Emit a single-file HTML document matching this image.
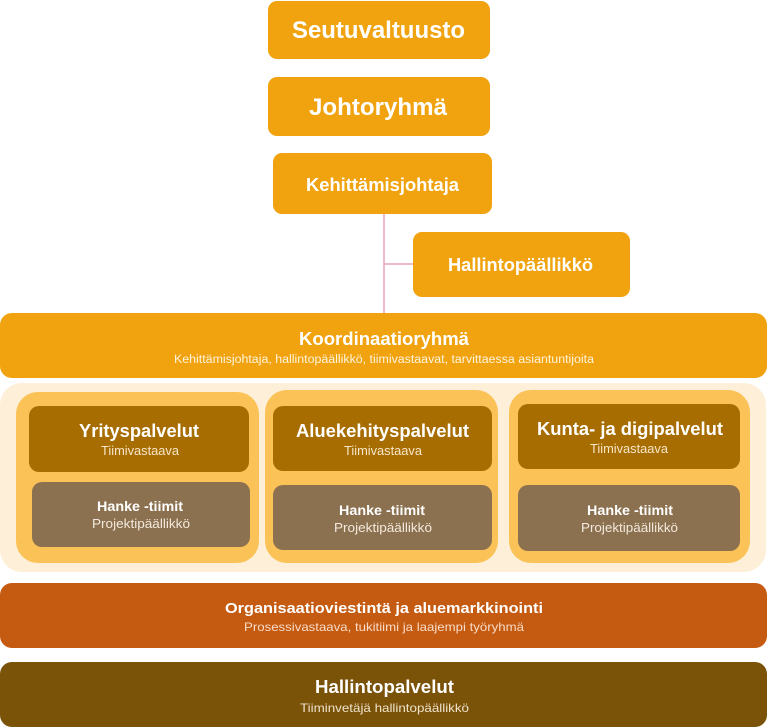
<!DOCTYPE html>
<html><head><meta charset="utf-8"><style>
html,body{margin:0;padding:0;background:#fff;}
svg{display:block;}
text{font-family:"Liberation Sans",sans-serif;fill:#fff;}
.b{font-weight:bold;}
</style></head><body>
<svg width="768" height="728" viewBox="0 0 768 728" xmlns="http://www.w3.org/2000/svg">
<!-- connectors -->
<line x1="384" y1="213" x2="384" y2="314" stroke="#e7a3b8" stroke-width="1.5"/>
<line x1="384" y1="264" x2="414" y2="264" stroke="#e7a3b8" stroke-width="1.5"/>

<!-- top boxes -->
<rect x="268" y="1" width="222" height="58" rx="9" fill="#f0a30e"/>
<text class="b" x="292" y="38" font-size="24" textLength="173" lengthAdjust="spacingAndGlyphs">Seutuvaltuusto</text>

<rect x="268" y="77" width="222" height="59" rx="9" fill="#f0a30e"/>
<text class="b" x="309" y="115" font-size="24" textLength="138" lengthAdjust="spacingAndGlyphs">Johtoryhmä</text>

<rect x="273" y="153" width="219" height="61" rx="9" fill="#f0a30e"/>
<text class="b" x="306" y="191" font-size="18" textLength="153" lengthAdjust="spacingAndGlyphs">Kehittämisjohtaja</text>

<rect x="413" y="232" width="217" height="65" rx="9" fill="#f0a30e"/>
<text class="b" x="448" y="271" font-size="18" textLength="145" lengthAdjust="spacingAndGlyphs">Hallintopäällikkö</text>

<!-- Koordinaatioryhmä -->
<rect x="0" y="313" width="767" height="65" rx="12" fill="#f0a30e"/>
<text class="b" x="299" y="345" font-size="18" textLength="170" lengthAdjust="spacingAndGlyphs">Koordinaatioryhmä</text>
<text x="174" y="363" font-size="11.5" textLength="420" lengthAdjust="spacingAndGlyphs" style="fill:#fff3dc">Kehittämisjohtaja, hallintopäällikkö, tiimivastaavat, tarvittaessa asiantuntijoita</text>

<!-- cream container -->
<rect x="0" y="383" width="766" height="189" rx="22" fill="#fef0d8"/>

<!-- column 1 -->
<rect x="16" y="392" width="243" height="171" rx="22" fill="#fbc257"/>
<rect x="29" y="406" width="220" height="66" rx="10" fill="#a86d00"/>
<text class="b" x="79" y="437" font-size="18" textLength="120" lengthAdjust="spacingAndGlyphs">Yrityspalvelut</text>
<text x="101" y="455" font-size="12.5" textLength="78" lengthAdjust="spacingAndGlyphs" style="fill:#f6e6c8">Tiimivastaava</text>
<rect x="32" y="482" width="218" height="65" rx="10" fill="#8c7150"/>
<text class="b" x="97" y="511" font-size="14" textLength="86" lengthAdjust="spacingAndGlyphs">Hanke -tiimit</text>
<text x="92" y="528" font-size="12.5" textLength="98" lengthAdjust="spacingAndGlyphs" style="fill:#f3e9dc">Projektipäällikkö</text>

<!-- column 2 -->
<rect x="265" y="390" width="233" height="173" rx="22" fill="#fbc257"/>
<rect x="273" y="406" width="219" height="65" rx="10" fill="#a86d00"/>
<text class="b" x="296" y="437" font-size="18" textLength="173" lengthAdjust="spacingAndGlyphs">Aluekehityspalvelut</text>
<text x="344" y="455" font-size="12.5" textLength="78" lengthAdjust="spacingAndGlyphs" style="fill:#f6e6c8">Tiimivastaava</text>
<rect x="273" y="485" width="219" height="65" rx="10" fill="#8c7150"/>
<text class="b" x="339" y="515" font-size="14" textLength="86" lengthAdjust="spacingAndGlyphs">Hanke -tiimit</text>
<text x="334" y="532" font-size="12.5" textLength="98" lengthAdjust="spacingAndGlyphs" style="fill:#f3e9dc">Projektipäällikkö</text>

<!-- column 3 -->
<rect x="509" y="390" width="241" height="173" rx="22" fill="#fbc257"/>
<rect x="518" y="404" width="222" height="65" rx="10" fill="#a86d00"/>
<text class="b" x="537" y="435" font-size="18" textLength="186" lengthAdjust="spacingAndGlyphs">Kunta- ja digipalvelut</text>
<text x="590" y="453" font-size="12.5" textLength="78" lengthAdjust="spacingAndGlyphs" style="fill:#f6e6c8">Tiimivastaava</text>
<rect x="518" y="485" width="222" height="66" rx="10" fill="#8c7150"/>
<text class="b" x="587" y="515" font-size="14" textLength="86" lengthAdjust="spacingAndGlyphs">Hanke -tiimit</text>
<text x="581" y="532" font-size="12.5" textLength="97" lengthAdjust="spacingAndGlyphs" style="fill:#f3e9dc">Projektipäällikkö</text>

<!-- orange bar -->
<rect x="0" y="583" width="767" height="65" rx="12" fill="#c55a11"/>
<text class="b" x="225" y="613" font-size="15" textLength="318" lengthAdjust="spacingAndGlyphs">Organisaatioviestintä ja aluemarkkinointi</text>
<text x="244" y="631" font-size="12" textLength="280" lengthAdjust="spacingAndGlyphs" style="fill:#f8dcc8">Prosessivastaava, tukitiimi ja laajempi työryhmä</text>

<!-- hallintopalvelut -->
<rect x="0" y="662" width="767" height="65" rx="12" fill="#7a5309"/>
<text class="b" x="315" y="693" font-size="18" textLength="139" lengthAdjust="spacingAndGlyphs">Hallintopalvelut</text>
<text x="300" y="712" font-size="12" textLength="169" lengthAdjust="spacingAndGlyphs" style="fill:#efe3cc">Tiiminvetäjä hallintopäällikkö</text>
</svg>
</body></html>
